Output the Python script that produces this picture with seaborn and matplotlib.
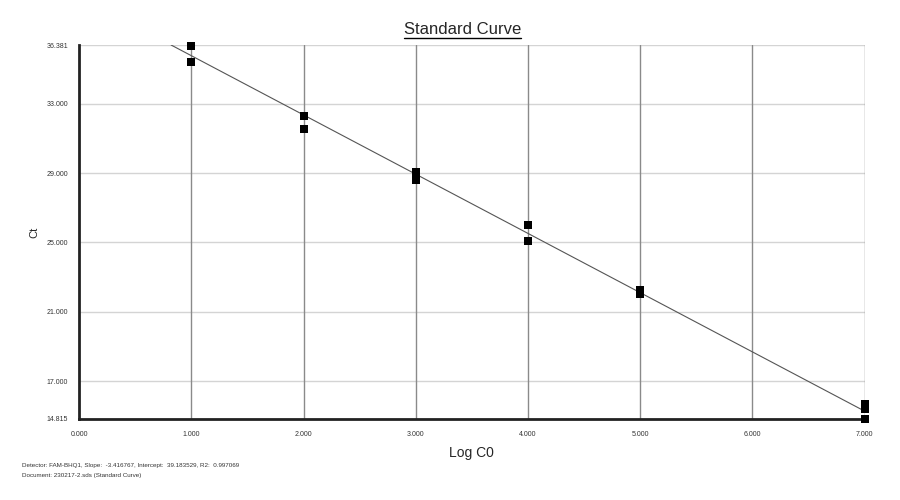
import numpy as np
import pandas as pd
import seaborn as sns
import matplotlib
matplotlib.use("Agg")
import matplotlib.pyplot as plt
from matplotlib.lines import Line2D

# ------------------------------------------------------------------------------
# Data
# ------------------------------------------------------------------------------
log_c0 = [1, 1, 2, 2, 3, 3, 3, 4, 4, 5, 5, 7, 7, 7]
ct = [36.30, 35.42, 32.29, 31.54, 29.08, 28.85, 28.60, 26.00, 25.09,
      22.28, 22.02, 15.68, 15.40, 14.815]

slope = -3.416767
intercept = 39.183529
r2 = 0.997069

x_ticks = [0, 1, 2, 3, 4, 5, 6, 7]
y_ticks = [14.815, 17, 21, 25, 29, 33, 36.381]
y_min, y_max = 14.815, 36.381

df = pd.DataFrame({"Log C0": log_c0, "Ct": ct})

# fitted line, clipped to the plot top
x_start = (intercept - y_max) / -slope
fit = pd.DataFrame({"x": [x_start, 7.0]})
fit["y"] = intercept + slope * fit["x"]

# ------------------------------------------------------------------------------
# Plot
# ------------------------------------------------------------------------------
sns.set_style("white")
plt.rcParams["font.family"] = ["Liberation Sans", "DejaVu Sans"]

fig = plt.figure(figsize=(9, 5), dpi=100)
ax = fig.add_axes([0.0878, 0.162, 0.873, 0.748])

for yt in y_ticks:
    ax.axhline(yt, color="#d4d4d4", lw=1.0, zorder=0)
for xt in x_ticks[1:]:
    ax.axvline(xt, color="#8a8a8a", lw=1.0, zorder=0)

sns.lineplot(data=fit, x="x", y="y", color="#555555", lw=0.8, ax=ax, zorder=2)
sns.scatterplot(data=df, x="Log C0", y="Ct", marker="s", s=38, color="black",
                edgecolor="black", linewidth=0, ax=ax, zorder=3, clip_on=False)

ax.set_xlim(0, 7)
ax.set_ylim(y_min, y_max)
ax.set_xticks(x_ticks)
ax.set_xticklabels([f"{v:.3f}" for v in x_ticks])
ax.set_yticks(y_ticks)
ax.set_yticklabels([f"{v:.3f}" for v in y_ticks])
ax.tick_params(axis="both", length=0, labelsize=5, colors="#333333")
ax.tick_params(axis="x", pad=9)
ax.tick_params(axis="y", pad=8)

ax.set_xlabel("Log C0", fontsize=10)
ax.set_ylabel("Ct", fontsize=8)
ax.xaxis.set_label_coords(0.5, -0.072)
ax.yaxis.set_label_coords(-0.051, 0.5)

ax.spines["top"].set_visible(False)
ax.spines["right"].set_visible(False)
ax.spines["left"].set_linewidth(2)
ax.spines["bottom"].set_linewidth(2)
ax.spines["left"].set_color("#222222")
ax.spines["bottom"].set_color("#222222")
ax.grid(False)

# underlined title
title = fig.text(0.514, 0.942, "Standard Curve", ha="center", va="center", fontsize=12)
fig.canvas.draw()
bb = title.get_window_extent().transformed(fig.transFigure.inverted())
fig.add_artist(Line2D([bb.x0, bb.x1], [bb.y0 - 0.002, bb.y0 - 0.002],
                      color="black", lw=1.0, transform=fig.transFigure))

fig.text(0.024, 0.070,
         f"Detector: FAM-BHQ1, Slope:  {slope:.6f}, Intercept:  {intercept:.6f}, R2:  {r2:.6f}",
         fontsize=4.5, color="#333333", va="center")
fig.text(0.024, 0.049, "Document: 230217-2.sds (Standard Curve)",
         fontsize=4.5, color="#333333", va="center")

fig.savefig("out.png", dpi=100)
